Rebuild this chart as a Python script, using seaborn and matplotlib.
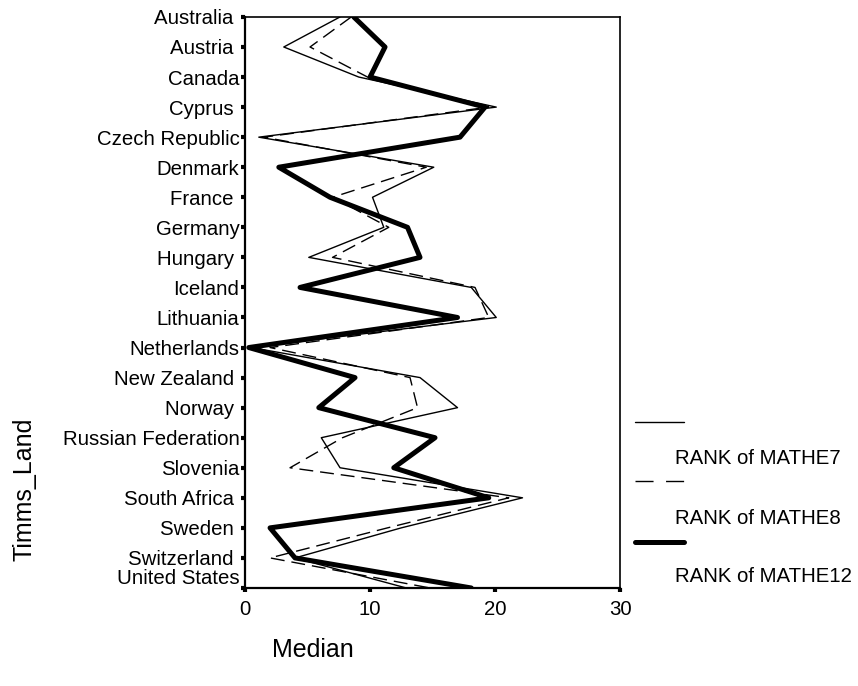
import numpy as np
import pandas as pd
from matplotlib import pyplot as plt
from matplotlib.lines import Line2D
import seaborn as sns

# data (median ranks per country)
countries = ["Australia ", "Austria ", "Canada", "Cyprus ", "Czech Republic", "Denmark",
             "France ", "Germany", "Hungary ", "Iceland", "Lithuania", "Netherlands",
             "New Zealand ", "Norway ", "Russian Federation", "Slovenia", "South Africa ",
             "Sweden ", "Switzerland ", "United States"]
mathe7 = [7.6, 3.1, 9.1, 20.1, 1.1, 15.1, 10.2, 11.1, 5.1, 18.1,
          20.1, 0.5, 14.0, 17.0, 6.1, 7.6, 22.2, 12.5, 4.0, 12.9]
mathe8 = [8.5, 5.2, 9.8, 19.5, 1.5, 14.5, 7.0, 11.5, 7.0, 18.4,
          19.5, 2.0, 13.2, 13.8, 7.8, 3.6, 21.1, 11.4, 2.0, 14.8]
mathe12 = [8.7, 11.2, 10.0, 19.2, 17.2, 2.7, 6.8, 13.0, 14.0, 4.4,
           17.0, 0.3, 8.8, 5.9, 15.2, 11.9, 19.5, 2.0, 4.0, 18.1]
series_names = ["RANK of MATHE7", "RANK of MATHE8", "RANK of MATHE12"]
x_ticks = [0, 10, 20, 30]

sns.set_style("ticks")
plt.rcParams['font.family'] = ['Liberation Sans', 'DejaVu Sans']
plt.rcParams['text.color'] = 'black'
plt.rcParams['xtick.labelcolor'] = 'black'
plt.rcParams['ytick.labelcolor'] = 'black'

df = pd.DataFrame({"land": countries, "pos": np.arange(len(countries)),
                   series_names[0]: mathe7, series_names[1]: mathe8,
                   series_names[2]: mathe12})

fig = plt.figure(figsize=(8.58, 6.86), dpi=100)
ax = fig.add_axes([0.2856, 0.1429, 0.437, 0.8324])

styles = {
    series_names[2]: dict(lw=3.6, linestyle="-"),
    series_names[0]: dict(lw=1.0, linestyle="-"),
    series_names[1]: dict(lw=1.0, linestyle=(0, (10, 5))),
}
for name, st in styles.items():
    sns.lineplot(data=df, x=name, y="pos", orient="y", color="black",
                 errorbar=None, ax=ax, **st)

ax.set_xlim(0, 30)
ax.set_ylim(len(countries) - 1, 0)
ax.set_xticks(x_ticks)
ax.set_yticks(df["pos"])
ax.set_yticklabels(countries)
ax.set_xlabel("")
ax.set_ylabel("")
ax.tick_params(axis="y", length=3, width=3, pad=1, labelsize=14.7, color="black",
               labelcolor="black")
ax.tick_params(axis="x", length=3, width=3, pad=6, labelsize=14.7, color="black",
               labelcolor="black")
for sp in ax.spines.values():
    sp.set_visible(True)
    sp.set_color("black")
    sp.set_linewidth(1.2)
ax.spines["left"].set_linewidth(1.6)
ax.spines["bottom"].set_linewidth(1.6)
ax.get_yticklabels()[-1].set_va("bottom")

fig.text(0.029, 1 - 489 / 686, "Timms_Land", rotation=90, ha="center", va="center",
         fontsize=18, color="black")
fig.text(0.365, 1 - 650 / 686, "Median", ha="center", va="center", fontsize=18,
         color="black")

# legend, SPSS style: swatch above, text below
fx = lambda px: px / 858
fy = lambda py: 1 - py / 686
swatches = [
    (422, dict(lw=1.0, linestyle="-")),
    (481, dict(lw=1.0, linestyle=(0, (13, 9)))),
    (542, dict(lw=3.6, linestyle="-")),
]
text_y = [459, 519, 577]
for (sy, st), ty, name in zip(swatches, text_y, series_names):
    fig.add_artist(Line2D([fx(635), fx(684)], [fy(sy), fy(sy)], color="black",
                          transform=fig.transFigure, **st))
    fig.text(fx(675), fy(ty), name, ha="left", va="center", fontsize=14.7,
             color="black")

fig.savefig("out.png", dpi=100)
